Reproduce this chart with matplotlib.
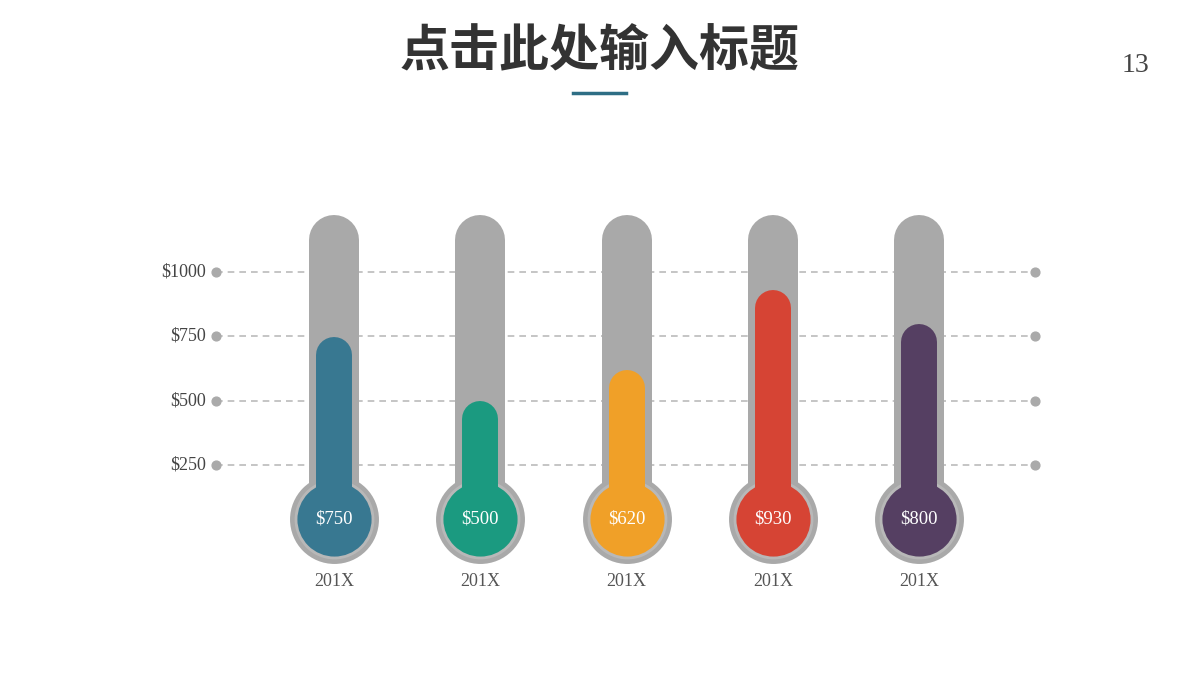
import matplotlib
matplotlib.use("Agg")
import matplotlib.pyplot as plt

categories = ["201X", "201X", "201X", "201X", "201X"]
values = [750, 500, 620, 930, 800]
value_labels = ["$750", "$500", "$620", "$930", "$800"]
grid_values = [250, 500, 750, 1000]
grid_labels = ["$250", "$500", "$750", "$1000"]
colors = ["#387891", "#1B9A80", "#F0A028", "#D64434", "#553F62"]
tube_max = 1221

fig = plt.figure(figsize=(12, 6.75), dpi=100)
ax = fig.add_axes([0, 0, 1, 1])
ax.set_xlim(-2.283, 5.919)
ax.set_ylim(-562, 2054)
ax.axis("off")

gray = "#A9A9A9"
sx = 1 / 146.3  # px -> x units
for gv, gl in zip(grid_values, grid_labels):
    ax.plot([216 * sx - 2.283, 1035 * sx - 2.283], [gv, gv], ls=(0, (4, 3)), color="#BBBBBB", lw=1.2, zorder=1)
    ax.scatter([216 * sx - 2.283, 1035 * sx - 2.283], [gv, gv], s=40, color="#AAAAAA", zorder=2)
    ax.text(206 * sx - 2.283, gv, gl, ha="right", va="center", fontsize=13,
            family="Liberation Serif", color="#444444")

for i, (v, c, lab, cat) in enumerate(zip(values, colors, value_labels, categories)):
    ax.plot([i, i], [40, tube_max - 97], lw=36, color=gray, solid_capstyle="round", zorder=3)
    ax.scatter([i], [43], s=4100, color=gray, zorder=4, linewidths=0)
    ax.scatter([i], [43], s=3300, color="#B8B8B8", zorder=4, linewidths=0)
    ax.scatter([i], [43], s=2850, color=c, zorder=5, linewidths=0)
    ax.plot([i, i], [43, v - 70], lw=25.9, color=c, solid_capstyle="round", zorder=5)
    ax.text(i, 43, lab, ha="center", va="center", fontsize=13.5, color="white",
            family="Liberation Serif", zorder=6)
    ax.text(i, (530 - 582) / 0.258, cat, ha="center", va="center", fontsize=13,
            color="#555555", family="Liberation Serif")

fig.text(0.5, 1 - 52 / 675, "点击此处输入标题", ha="center", va="center", fontsize=36,
         fontweight="bold", family=["Noto Sans CJK SC", "DejaVu Sans"], color="#333333")
fig.add_artist(plt.Line2D([573 / 1200, 626 / 1200], [1 - 93 / 675] * 2, lw=2.5, color="#2E6E85"))
fig.text(1135 / 1200, 1 - 66 / 675, "13", ha="center", va="center", fontsize=20,
         family="Liberation Serif", color="#444444")

fig.savefig("out.png", dpi=100)
